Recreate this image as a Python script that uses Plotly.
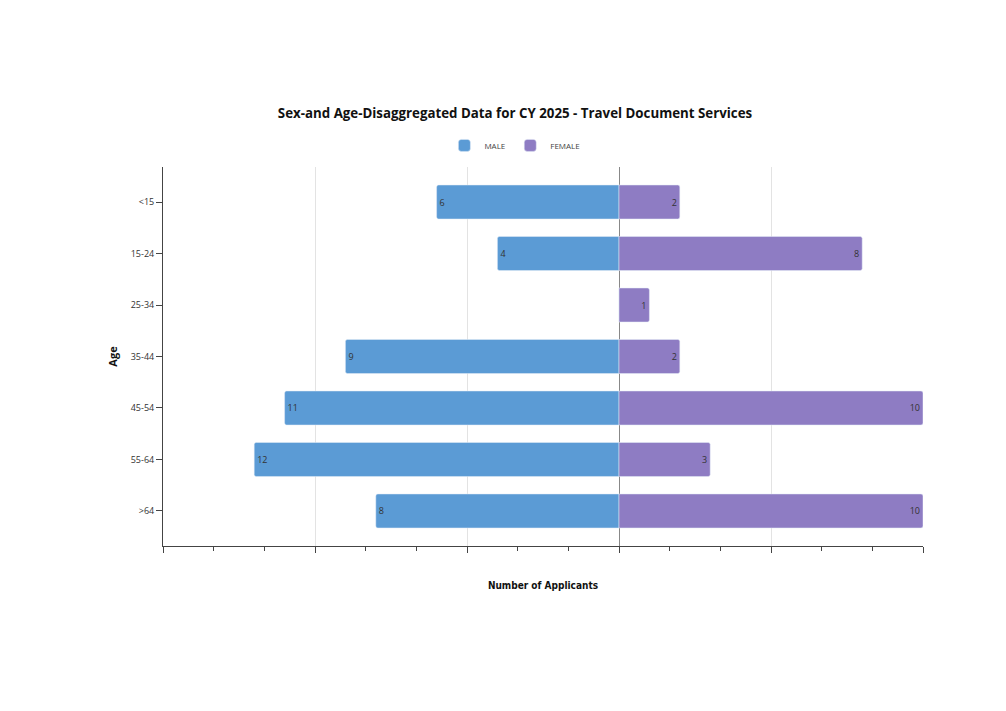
import plotly.graph_objects as go

# Age groups, top to bottom
age_groups = ["<15", "15-24", "25-34", "35-44", "45-54", "55-64", ">64"]
male = [6, 4, 0, 9, 11, 12, 8]
female = [2, 8, 1, 2, 10, 3, 10]

MALE_COLOR = "#5b9bd5"
FEMALE_COLOR = "#8e7cc3"


def main():
    fig = go.Figure()

    # male bars go to the left (negative), labelled with absolute counts
    fig.add_trace(go.Bar(
        y=age_groups,
        x=[-v for v in male],
        orientation="h",
        name="MALE",
        marker=dict(color=MALE_COLOR, cornerradius=2),
        text=[str(v) if v else "" for v in male],
        textposition="inside",
        insidetextanchor="end",
        textfont=dict(family="Open Sans", size=9, color="#333333"),
        width=0.66,
    ))

    fig.add_trace(go.Bar(
        y=age_groups,
        x=female,
        orientation="h",
        name="FEMALE",
        marker=dict(color=FEMALE_COLOR, cornerradius=2),
        text=[str(v) if v else "" for v in female],
        textposition="inside",
        insidetextanchor="end",
        textfont=dict(family="Open Sans", size=9, color="#333333"),
        width=0.66,
    ))

    fig.update_layout(
        width=1006,
        height=711,
        paper_bgcolor="white",
        plot_bgcolor="white",
        barmode="relative",
        margin=dict(l=155, r=91, t=159, b=173),
        title=dict(
            text="<b>Sex-and Age-Disaggregated Data for CY 2025 - Travel Document Services</b>",
            font=dict(family="Open Sans", size=13.3, color="#111111"),
            x=0.504, xanchor="center",
            y=1 - 105 / 711, yanchor="middle",
        ),
        legend=dict(
            orientation="h",
            x=0.463, xanchor="center",
            y=1.057, yanchor="middle",
            font=dict(family="Open Sans", size=8, color="#444444"),
            traceorder="normal",
        ),
        showlegend=True,
        uniformtext=dict(minsize=9, mode="show"),
    )

    fig.update_xaxes(
        range=[-15, 10],
        tick0=0,
        dtick=5,
        showticklabels=False,
        ticks="outside",
        ticklen=6,
        tickcolor="#444444",
        showline=True,
        linecolor="#444444",
        linewidth=1,
        showgrid=True,
        gridcolor="#e3e3e3",
        zeroline=True,
        zerolinecolor="#888888",
        zerolinewidth=1,
        minor=dict(dtick=5 / 3, tick0=0, ticks="outside", ticklen=4,
                   tickcolor="#444444", showgrid=False),
        title=dict(text="<b>Number of Applicants</b>",
                   font=dict(family="DejaVu Sans Condensed", size=10, color="#111111"),
                   standoff=29),
    )

    fig.update_yaxes(
        range=[6.68, -0.68],
        categoryorder="array",
        categoryarray=age_groups,
        ticks="outside",
        ticklen=6,
        tickcolor="#444444",
        tickfont=dict(family="Open Sans", size=9, color="#333333"),
        showline=True,
        linecolor="#444444",
        linewidth=1,
        showgrid=False,
        title=dict(text="<b>Age</b>",
                   font=dict(family="Open Sans", size=11, color="#111111"),
                   standoff=10),
    )

    fig.write_html("out.html")


if __name__ == "__main__":
    main()
